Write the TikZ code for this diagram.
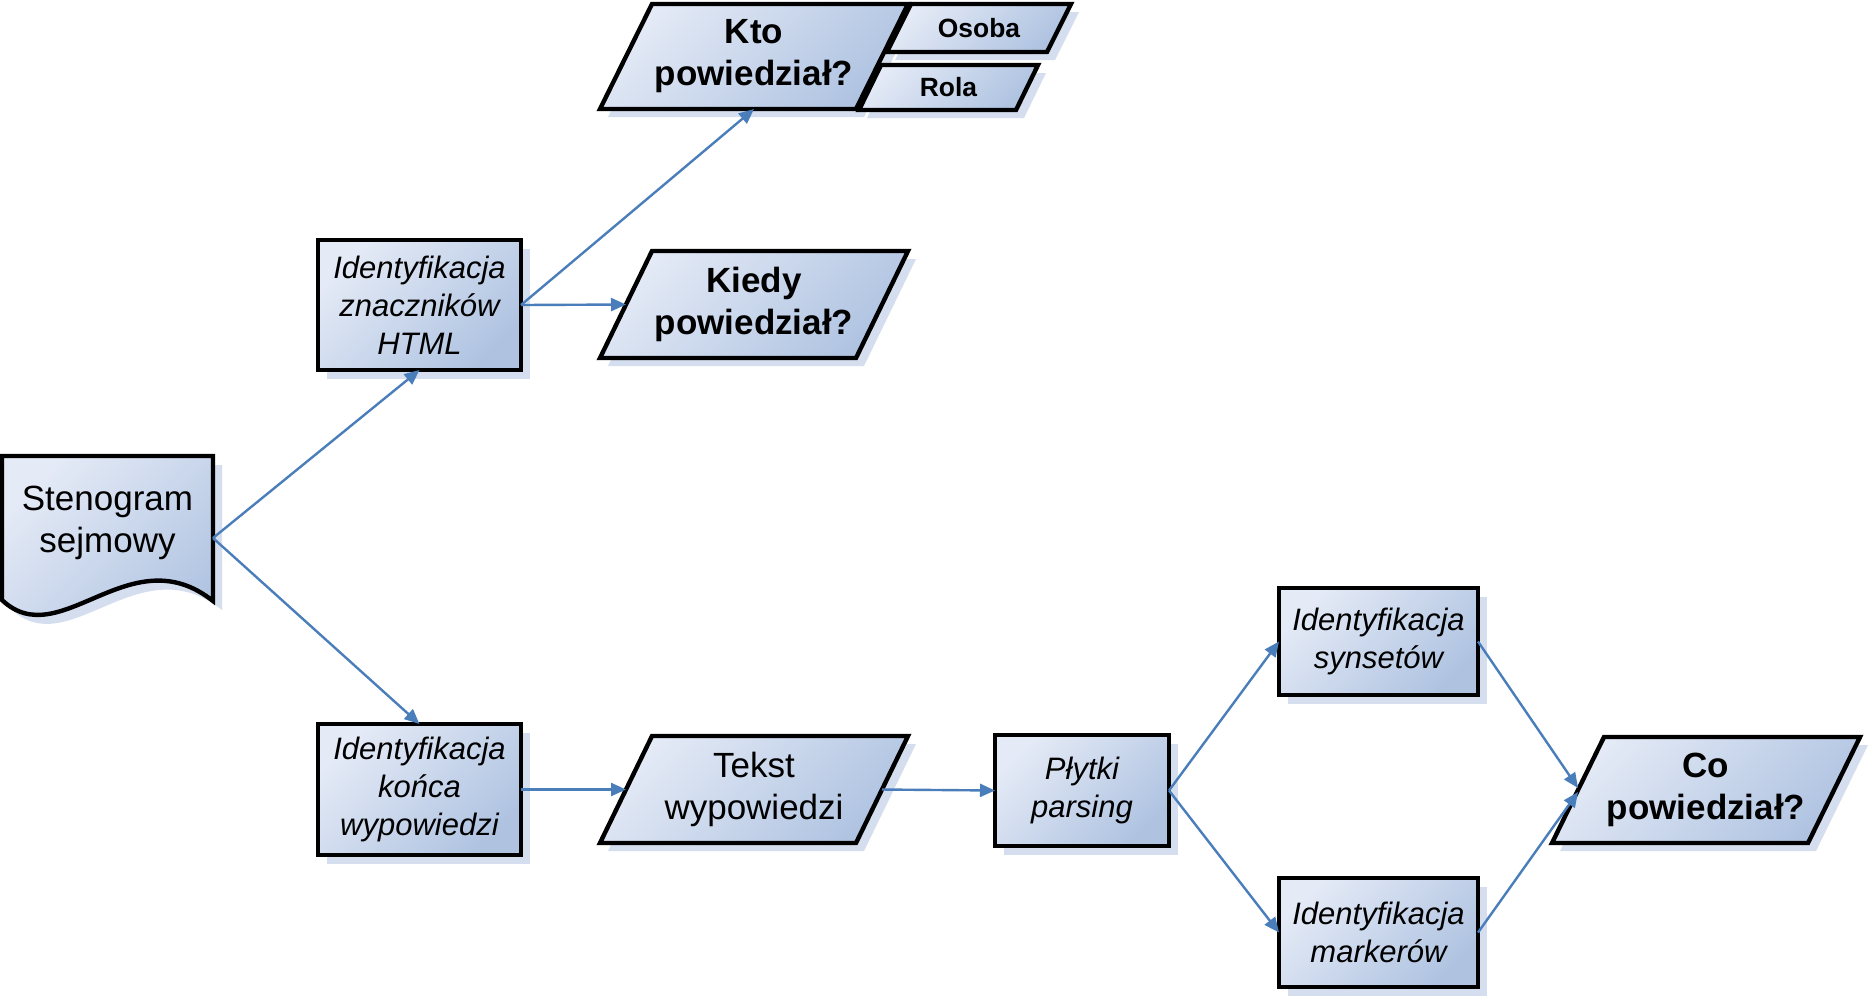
\documentclass[tikz,border=0pt]{standalone}
\usepackage{fontspec}
\setmainfont{Liberation Sans}
\usetikzlibrary{arrows.meta}
\definecolor{fillA}{HTML}{E4EAF6}
\definecolor{fillB}{HTML}{AFC3E1}
\definecolor{shadowc}{HTML}{D5DEEE}
\definecolor{linkc}{HTML}{4A7EBB}
\pgfdeclarelayer{bg}
\pgfsetlayers{bg,main}
\tikzset{
  holder/.style={rectangle, draw=none, inner sep=0pt, outer sep=0pt, align=center},
  normtxt/.style={font=\fontsize{17.5pt}{21pt}\selectfont},
  boldtxt/.style={font=\fontsize{17.5pt}{21pt}\selectfont\bfseries},
  smallbold/.style={font=\fontsize{13.2pt}{16pt}\selectfont\bfseries},
  itxt/.style={font=\fontsize{15.5pt}{19pt}\selectfont\itshape},
  outline/.style={draw=black, line width=2.2pt, line join=miter, top color=fillA, bottom color=fillB, shading angle=45},
  shadowfill/.style={fill=shadowc},
  link/.style={draw=linkc, line width=1.2pt, -{Triangle[length=7.5pt,width=6.5pt]}},
}
\newcommand\boxshape[1]{%
  \begin{pgfonlayer}{bg}
    \fill[shadowfill] ([shift={(9,9)}]#1.north west) rectangle ([shift={(9,9)}]#1.south east);
    \path[outline] (#1.north west) rectangle (#1.south east);
  \end{pgfonlayer}}
\newcommand\parashape[2]{%
  \begin{pgfonlayer}{bg}
    \fill[shadowfill] ([shift={(#2+8,8)}]#1.north west) -- ([shift={(#2+8,8)}]#1.north east)
      -- ([shift={(-#2+8,8)}]#1.south east) -- ([shift={(-#2+8,8)}]#1.south west) -- cycle;
    \path[outline] ([shift={(#2,0)}]#1.north west) -- ([shift={(#2,0)}]#1.north east)
      -- ([shift={(-#2,0)}]#1.south east) -- ([shift={(-#2,0)}]#1.south west) -- cycle;
  \end{pgfonlayer}}
\begin{document}
\begin{tikzpicture}[x=0.5pt,y=-0.5pt]
\useasboundingbox (0,0) rectangle (1873,998);
\begin{pgfonlayer}{bg}
  \fill[white] (0,0) rectangle (1873,998);
\end{pgfonlayer}

% document shape
\node[holder, minimum width=105.5pt, minimum height=82pt] (steno) at (107.5,538) {};
\node[holder, normtxt] (stenotxt) at (107.5,523) {Stenogram\\sejmowy};
\begin{pgfonlayer}{bg}
  \fill[shadowfill, shift={(9,9)}] (2,456) -- (213,456) -- (213,601)
     .. controls (130,535) and (60,655) .. (2,600) -- cycle;
  \path[outline] (2,456) -- (213,456) -- (213,601)
     .. controls (130,535) and (60,655) .. (2,600) -- cycle;
\end{pgfonlayer}

% process boxes
\node[holder, itxt, minimum width=101.5pt, minimum height=65pt] (html) at (419.5,305) {Identyfikacja\\znaczników\\HTML};
\boxshape{html}
\node[holder, itxt, minimum width=101.5pt, minimum height=65.5pt] (konca) at (419.5,789.5) {Identyfikacja\\końca\\wypowiedzi};
\boxshape{konca}
\node[holder, itxt, minimum width=87pt, minimum height=55.5pt] (plytki) at (1082,790.5) {Płytki\\parsing};
\boxshape{plytki}
\node[holder, itxt, minimum width=99.5pt, minimum height=53.5pt] (synset) at (1378.5,641.5) {Identyfikacja\\synsetów};
\boxshape{synset}
\node[holder, itxt, minimum width=99.5pt, minimum height=54.5pt] (markerow) at (1378.5,932.5) {Identyfikacja\\markerów};
\boxshape{markerow}

% data (parallelograms)
\node[holder, boldtxt, minimum width=128pt, minimum height=52.5pt] (kto) at (754,56.5) {Kto\\powiedział?};
\parashape{kto}{26}
\node[holder, smallbold, minimum width=80pt, minimum height=24pt] (osoba) at (979,28) {Osoba};
\parashape{osoba}{12}
\node[holder, smallbold, minimum width=78.5pt, minimum height=22.5pt] (rola) at (948.5,87.5) {Rola};
\parashape{rola}{11}
\node[holder, boldtxt, minimum width=128pt, minimum height=53.5pt] (kiedy) at (754,304.5) {Kiedy\\powiedział?};
\parashape{kiedy}{26}
\node[holder, normtxt, minimum width=128pt, minimum height=53.5pt] (tekst) at (754,789.5) {Tekst\\wypowiedzi};
\parashape{tekst}{26}
\node[holder, boldtxt, minimum width=128pt, minimum height=53pt] (co) at (1706,790) {Co\\powiedział?};
\parashape{co}{26}

% connectors
\draw[link] (steno.east) -- (html.south);
\draw[link] (steno.east) -- (konca.north);
\draw[link] (html.east) -- (kiedy.west);
\draw[link] (html.east) -- (kto.south);
\draw[link] (konca.east) -- (tekst.west);
\draw[link] (tekst.east) -- (plytki.west);
\draw[link] (plytki.east) -- (synset.west);
\draw[link] (plytki.east) -- (markerow.west);
\draw[link] (synset.east) -- ([yshift=1pt]co.west);
\draw[link] (markerow.east) -- ([yshift=-1pt]co.west);
\end{tikzpicture}
\end{document}
